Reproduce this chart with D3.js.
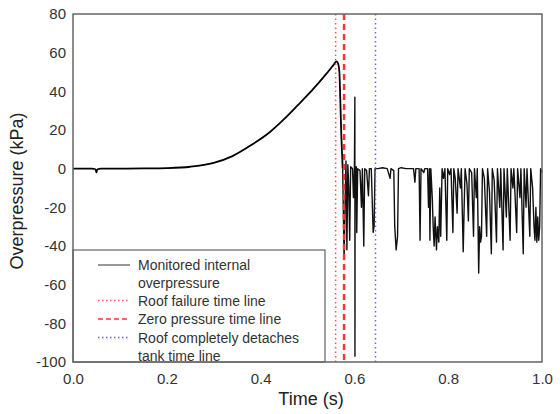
<!DOCTYPE html>
<html>

<head>
    <meta charset="utf-8">
    <title>Overpressure</title>
    <script src="https://d3js.org/d3.v7.min.js"></script>
    <style>
        body {
            margin: 0;
            background: #fff;
        }

        text {
            font-family: "Liberation Sans", Arial, sans-serif;
        }
    </style>
</head>

<body>
    <div class="inner"></div>
    <script>
        // smooth pressure build-up before the roof fails
        const riseTime = [0, 0.04, 0.048, 0.05, 0.052, 0.06, 0.1, 0.15, 0.2, 0.25, 0.3, 0.34, 0.38, 0.42, 0.45, 0.48, 0.51, 0.54, 0.556, 0.562, 0.565, 0.568, 0.570, 0.572, 0.574, 0.575]
        const riseValue = [0, 0, -0.3, -2, -0.3, 0, 0, 0.1, 0.3, 1, 3, 6.5, 12.2, 19, 25.6, 33, 40.6, 49, 53.8, 55.5, 54.5, 50, 35, 18, 6, 0]

        // ringing after roof failure
        const ringTime = [0.575, 0.578, 0.580, 0.582, 0.584, 0.586, 0.588, 0.590, 0.592, 0.596, 0.598, 0.600, 0.601, 0.6012, 0.6015,
            0.604, 0.605, 0.607, 0.612, 0.615, 0.617, 0.620, 0.622, 0.626, 0.630, 0.632, 0.636, 0.640, 0.642, 0.644,
            0.650, 0.660, 0.670, 0.676, 0.678, 0.684, 0.686, 0.689, 0.692, 0.694, 0.700, 0.710, 0.720, 0.726, 0.729,
            0.731, 0.738, 0.740, 0.742, 0.748, 0.750, 0.756, 0.758, 0.760, 0.761, 0.763, 0.766, 0.768, 0.770, 0.772,
            0.775, 0.777, 0.780, 0.782, 0.784, 0.787, 0.790, 0.793, 0.797, 0.799, 0.803, 0.806, 0.810, 0.812, 0.815,
            0.819, 0.821, 0.826, 0.828, 0.832, 0.834, 0.836, 0.840, 0.843, 0.845, 0.850, 0.854, 0.856, 0.860, 0.862,
            0.865, 0.867, 0.869, 0.871, 0.873, 0.877, 0.882, 0.884, 0.888, 0.892, 0.894, 0.898, 0.903, 0.905, 0.910,
            0.912, 0.917, 0.919, 0.924, 0.926, 0.932, 0.934, 0.938, 0.940, 0.946, 0.948, 0.953, 0.955, 0.960, 0.962,
            0.966, 0.968, 0.974, 0.976, 0.980, 0.983, 0.985, 0.987, 0.989, 0.991, 0.993, 0.995, 0.997, 1.0]
        const ringValue = [0, -47, -20, 4, -42, 2, -10, -37, 1, 0, -15, 0, 37, -97, 0,
            1, -33, 0, -1, -20, 0, -40, 0, -1, -14, 0, 0, -33, -30, 0,
            0, 0.5, 0, -5, 0, -1, -30, -42, -35, 0, 0.5, 0, 0, 0, -7,
            0, 0, -37, 0, -2, 0, 0, -20, 0, -37, 0, -15, -30, -40, -25,
            -42, -30, -38, -10, -35, 0, -5, 0, -37, 0, -3, 0, -33, 0, -5,
            -23, 0, -10, 0, -43, -20, 0, -8, -27, 0, -2, -35, 0, -15, 0,
            -54, -30, -38, -35, 0, -5, -35, 0, -12, -44, 0, -6, -38, 0, -20,
            0, -42, 0, -25, 0, -37, 0, -10, 0, -33, 0, -15, 0, -44, 0,
            -20, 0, -35, 0, -10, -30, -37, -20, -38, -25, -37, -30, 0, -2]

        // event time lines
        const roofFailureTime = 0.560
        const zeroPressureTime = 0.578
        const detachTime = 0.645

        const xTicks = [0, 0.2, 0.4, 0.6, 0.8, 1.0]
        const yTicks = [-100, -80, -60, -40, -20, 0, 20, 40, 60, 80]

        const legendLabels = [
            ["Monitored internal", "overpressure"],
            ["Roof failure time line"],
            ["Zero pressure time line"],
            ["Roof completely detaches", "tank time line"]
        ]

        const w = 560
        const h = 414
        const padding = { top: 14, right: 18, bottom: 52, left: 73 }

        const xScale = d3.scaleLinear()
            .domain([0, 1])
            .range([padding.left, w - padding.right])

        const yScale = d3.scaleLinear()
            .domain([-100, 80])
            .range([h - padding.bottom, padding.top])

        const svg = d3.select(".inner")
            .append("svg")
            .attr("width", w)
            .attr("height", h)

        const line = d3.line()
            .x(d => xScale(d[0]))
            .y(d => yScale(d[1]))

        const smoothLine = d3.line()
            .x(d => xScale(d[0]))
            .y(d => yScale(d[1]))
            .curve(d3.curveMonotoneX)

        const rise = riseTime.map((t, i) => [t, riseValue[i]])
        const ring = ringTime.map((t, i) => [t, ringValue[i]])

        svg.append("path")
            .datum(ring)
            .attr("d", line)
            .attr("fill", "none")
            .attr("stroke", "#111")
            .attr("stroke-width", 1.4)
            .attr("stroke-linejoin", "round")

        svg.append("path")
            .datum(rise)
            .attr("d", smoothLine)
            .attr("fill", "none")
            .attr("stroke", "#000")
            .attr("stroke-width", 1.8)

        // vertical time lines
        const vlines = [
            { t: roofFailureTime, color: "#ff5555", width: 1.5, dash: "1.5,3" },
            { t: zeroPressureTime, color: "#ff3333", width: 2.5, dash: "6,4" },
            { t: detachTime, color: "#6666ff", width: 1.5, dash: "1.5,3" }
        ]

        svg.selectAll(".vline")
            .data(vlines)
            .enter()
            .append("line")
            .attr("class", "vline")
            .attr("x1", d => xScale(d.t))
            .attr("x2", d => xScale(d.t))
            .attr("y1", yScale(80))
            .attr("y2", yScale(-100))
            .attr("stroke", d => d.color)
            .attr("stroke-width", d => d.width)
            .attr("stroke-dasharray", d => d.dash)

        // legend
        const lx = padding.left
        const ly = 250
        const legend = svg.append("g")

        legend.append("rect")
            .attr("x", lx)
            .attr("y", ly)
            .attr("width", 252)
            .attr("height", yScale(-100) - ly)
            .attr("fill", "#fff")
            .attr("stroke", "#444")
            .attr("stroke-width", 1)

        const styles = [
            { color: "#333", width: 1, dash: null },
            vlines[0], vlines[1], vlines[2]
        ]
        const rowY = [265, 300.5, 319, 337.5]

        legendLabels.forEach((lines, i) => {
            legend.append("line")
                .attr("x1", lx + 25)
                .attr("x2", lx + 57)
                .attr("y1", rowY[i])
                .attr("y2", rowY[i])
                .attr("stroke", styles[i].color)
                .attr("stroke-width", i === 0 ? 1 : Math.min(styles[i].width, 1.5))
                .attr("stroke-dasharray", i === 2 ? "5,3" : (i === 0 ? null : "1.5,2.5"))

            lines.forEach((txt, j) => {
                legend.append("text")
                    .attr("x", lx + 65)
                    .attr("y", rowY[i] + 5 + j * 18)
                    .attr("font-size", "14px")
                    .attr("fill", "#333")
                    .text(txt)
            })
        })

        // frame
        svg.append("rect")
            .attr("x", padding.left)
            .attr("y", padding.top)
            .attr("width", w - padding.left - padding.right)
            .attr("height", h - padding.top - padding.bottom)
            .attr("fill", "none")
            .attr("stroke", "#666")
            .attr("stroke-width", 1.5)

        const xAxis = d3.axisBottom(xScale).tickValues(xTicks).tickFormat(d3.format(".1f")).tickSize(0).tickPadding(11)
        const yAxis = d3.axisLeft(yScale).tickValues(yTicks).tickFormat(d => String(d)).tickSize(0).tickPadding(7)

        svg.append("g")
            .attr("transform", "translate(0," + (h - padding.bottom) + ")")
            .call(xAxis)
            .call(g => g.select(".domain").remove())
            .selectAll("text")
            .attr("font-size", "15px")
            .attr("font-family", "Liberation Sans, Arial, sans-serif")
            .attr("fill", "#333")

        svg.append("g")
            .attr("transform", "translate(" + padding.left + ",0)")
            .call(yAxis)
            .call(g => g.select(".domain").remove())
            .selectAll("text")
            .attr("font-size", "15px")
            .attr("font-family", "Liberation Sans, Arial, sans-serif")
            .attr("fill", "#333")

        svg.append("text")
            .attr("x", 311)
            .attr("y", 405)
            .attr("text-anchor", "middle")
            .attr("font-size", "18px")
            .attr("fill", "#222")
            .text("Time (s)")

        svg.append("text")
            .attr("transform", "translate(23,191) rotate(-90)")
            .attr("text-anchor", "middle")
            .attr("font-size", "18px")
            .attr("fill", "#222")
            .text("Overpressure (kPa)")
    </script>
</body>

</html>
